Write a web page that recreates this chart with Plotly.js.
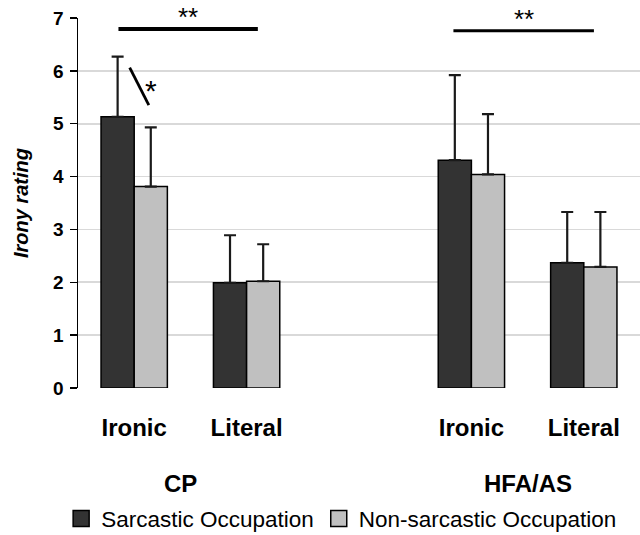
<!DOCTYPE html>
<html>
<head>
<meta charset="utf-8">
<script src="https://cdn.plot.ly/plotly-3.0.1.min.js"></script>
<style>html,body{margin:0;padding:0;background:#fff;}#chart{width:640px;height:535px;}</style>
</head>
<body>
<div id="chart"></div>
<script>
// ---- data ----
const conditions = ["Ironic", "Literal", "Ironic", "Literal"];
const conditionPos = [0, 1, 3, 4];
const groups = ["CP", "HFA/AS"];
const groupPos = [0.41, 3.50];
const seriesNames = ["Sarcastic Occupation", "Non-sarcastic Occupation"];
const seriesColors = ["#333333", "#c0c0c0"];
const sarcasticMean = [5.13, 1.99, 4.31, 2.37];
const sarcasticSD = [1.14, 0.90, 1.61, 0.96];
const nonSarcasticMean = [3.81, 2.02, 4.04, 2.29];
const nonSarcasticSD = [1.12, 0.70, 1.14, 1.04];
const yTicks = [0, 1, 2, 3, 4, 5, 6, 7];
// significance markers
const sigBracketX0 = [-0.14, 2.84];
const sigBracketX1 = [1.10, 4.09];
const sigBracketY = [6.79, 6.76];
const sigBracketLabels = ["**", "**"];
const sigSlashStart = [-0.04, 6.06];
const sigSlashEnd = [0.13, 5.35];
const sigSlashLabel = "*";

const font = "Liberation Sans, Arial, sans-serif";
const zeros = conditionPos.map(() => 0);

const errStyle = {type: "data", symmetric: false, arrayminus: zeros, color: "#1a1a1a", thickness: 2.2, width: 6};

const means = [sarcasticMean, nonSarcasticMean];
const sds = [sarcasticSD, nonSarcasticSD];

const traces = [];
means.forEach((m, i) => {
  traces.push({
    type: "bar", name: seriesNames[i], x: conditionPos, y: m, showlegend: false,
    marker: {color: seriesColors[i], line: {color: "#000", width: 1.5}},
    error_y: Object.assign({array: sds[i]}, errStyle)
  });
});
// legend entries (square swatches)
means.forEach((m, i) => {
  traces.push({
    type: "scatter", mode: "markers", name: seriesNames[i], x: [conditionPos[0]], y: [null],
    marker: {symbol: "square", size: 17, color: seriesColors[i], line: {color: "#000", width: 1.5}},
    hoverinfo: "skip"
  });
});

const shapes = [];
const annotations = [];
sigBracketY.forEach((y, i) => {
  shapes.push({type: "line", xref: "x", yref: "y", x0: sigBracketX0[i], x1: sigBracketX1[i], y0: y, y1: y,
    line: {color: "#000", width: i === 0 ? 4 : 3}});
  annotations.push({xref: "x", yref: "y", x: (sigBracketX0[i] + sigBracketX1[i]) / 2, y: y,
    yanchor: "bottom", yshift: -5, text: sigBracketLabels[i], showarrow: false,
    font: {family: font, size: 26, color: "#000"}});
});
shapes.push({type: "line", xref: "x", yref: "y", x0: sigSlashStart[0], y0: sigSlashStart[1], x1: sigSlashEnd[0], y1: sigSlashEnd[1],
  line: {color: "#000", width: 2.8}});
annotations.push({xref: "x", yref: "y", x: sigSlashEnd[0] + 0.017, y: (sigSlashStart[1] + sigSlashEnd[1]) / 2,
  xanchor: "center", yshift: -4, text: sigSlashLabel, showarrow: false, font: {family: font, size: 30, color: "#000"}});
groups.forEach((g, i) => {
  annotations.push({xref: "x", yref: "paper", x: groupPos[i], y: -0.257, yanchor: "middle",
    text: "<b>" + g + "</b>", showarrow: false, font: {family: font, size: 24, color: "#000"}});
});

const layout = {
  width: 640, height: 535,
  margin: {l: 78, r: 0, t: 18, b: 147, autoexpand: false},
  paper_bgcolor: "#fff", plot_bgcolor: "#fff",
  barmode: "group", bargap: 0.41, bargroupgap: 0,
  font: {family: font, color: "#000"},
  showlegend: true,
  legend: {orientation: "h", x: -0.03, xanchor: "left", y: -0.354, yanchor: "middle",
    font: {family: font, size: 22.5, color: "#000"}, itemwidth: 30, tracegroupgap: 0,
    bgcolor: "rgba(0,0,0,0)"},
  xaxis: {
    range: [-0.5, 4.5], tickvals: conditionPos, ticktext: conditions.map(c => "<b>" + c + "</b>"),
    tickfont: {family: font, size: 24, color: "#000"}, ticks: "", showgrid: false, zeroline: false,
    showline: false, ticklabelstandoff: 23, fixedrange: true, automargin: false
  },
  yaxis: {
    range: [0, 7], tickvals: yTicks, ticktext: yTicks.map(v => "<b>" + v + "</b>"),
    tickfont: {family: font, size: 19, color: "#000"},
    ticks: "outside", ticklen: 7, tickwidth: 1.5, tickcolor: "#000", ticklabelstandoff: 2,
    showline: true, linecolor: "#000", linewidth: 1.5,
    showgrid: true, gridcolor: "#d9d9d9", gridwidth: 1.8, zeroline: false, automargin: false,
    title: {text: "Irony rating", font: {family: font, size: 20, color: "#000", style: "italic", weight: "bold"}, standoff: 19}
  },
  shapes: shapes,
  annotations: annotations
};

Plotly.newPlot("chart", traces, layout, {displayModeBar: false, staticPlot: true});
</script>
</body>
</html>
